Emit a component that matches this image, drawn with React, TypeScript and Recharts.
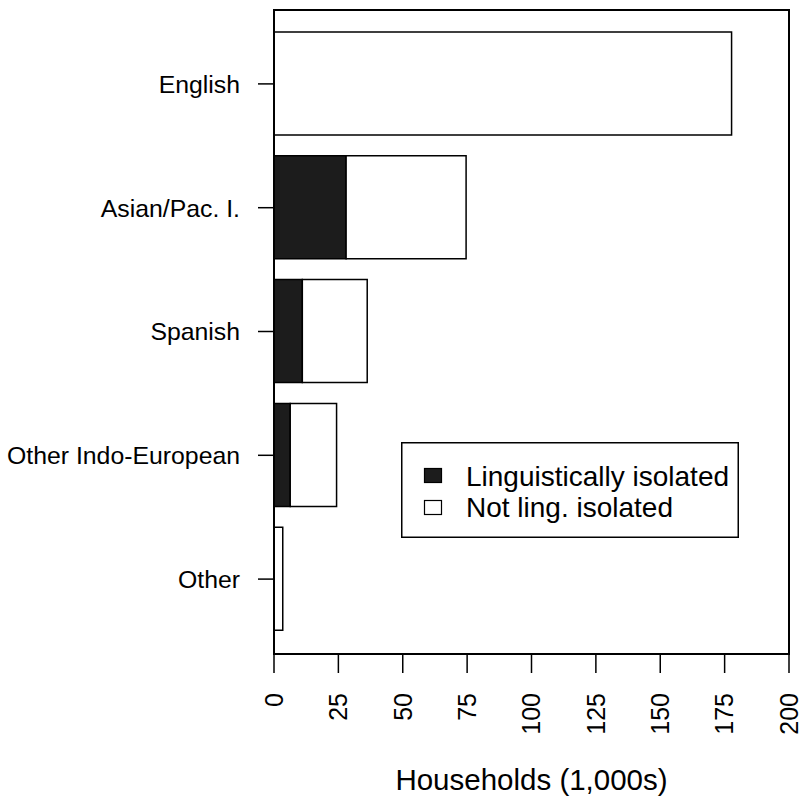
import { Bar, BarChart, Legend, XAxis, YAxis } from "recharts";

// Households by language spoken at home, split by linguistic isolation (1,000s)
const categories = ["English", "Asian/Pac. I.", "Spanish", "Other Indo-European", "Other"];
const isolated = [0, 28, 11, 6.3, 0];
const notIsolated = [177.7, 46.6, 25.2, 18, 3.4];
const xTicks = [0, 25, 50, 75, 100, 125, 150, 175, 200];
const seriesNames = ["Linguistically isolated", "Not ling. isolated"];

const data = categories.map((name, i) => ({
  name,
  isolated: isolated[i],
  notIsolated: notIsolated[i],
}));

const FONT = "'Liberation Sans', Arial, Helvetica, sans-serif";
const DARK = "#1c1c1c";

function XTick({ x, y, payload }: any) {
  return (
    <text
      x={x}
      y={y}
      transform={`rotate(-90, ${x}, ${y})`}
      textAnchor="end"
      dy="0.35em"
      fontSize={25}
      fontFamily={FONT}
      fill="#000"
    >
      {payload.value}
    </text>
  );
}

function LegendBox() {
  return (
    <svg width={338} height={96} style={{ display: "block" }}>
      <rect x={0.75} y={0.75} width={336.5} height={94.5} fill="#fff" stroke="#000" strokeWidth={1.5} />
      <rect x={23.5} y={26.5} width={17} height={14} fill={DARK} stroke="#000" strokeWidth={1.2} />
      <rect x={23.5} y={58.5} width={17} height={14} fill="#fff" stroke="#000" strokeWidth={1.2} />
      <text x={65} y={44} fontSize={28} fontFamily={FONT} fill="#000">
        {seriesNames[0]}
      </text>
      <text x={65} y={75} fontSize={28} fontFamily={FONT} fill="#000">
        {seriesNames[1]}
      </text>
    </svg>
  );
}

export default function App() {
  return (
    <div style={{ position: "relative", width: 801, height: 799, fontFamily: FONT }}>
      <style>{"body{margin:0}"}</style>
      <BarChart
        width={801}
        height={799}
        data={data}
        layout="vertical"
        margin={{ top: 10, right: 12, left: 0, bottom: 0 }}
      >
        <XAxis
          type="number"
          domain={[0, 200]}
          ticks={xTicks}
          interval={0}
          axisLine={false}
          tickLine={{ stroke: "#000", strokeWidth: 1.5 }}
          tickSize={19}
          tickMargin={20}
          height={145}
          tick={<XTick />}
          label={({ viewBox }: any) => (
            <text
              x={viewBox.x + viewBox.width / 2}
              y={viewBox.y + 136}
              textAnchor="middle"
              fontSize={29.5}
              fontFamily={FONT}
              fill="#000"
            >
              Households (1,000s)
            </text>
          )}
        />
        <YAxis
          type="category"
          dataKey="name"
          width={274}
          padding={{ top: 12, bottom: 13 }}
          axisLine={false}
          tickLine={{ stroke: "#000", strokeWidth: 1.5 }}
          tickSize={16}
          tickMargin={18}
          interval={0}
          tick={{ fontSize: 24.8, fill: "#000", fontFamily: FONT }}
        />
        <Legend
          verticalAlign="middle"
          align="center"
          content={() => <LegendBox />}
          wrapperStyle={{ left: 401, top: 442, width: 338, height: 96 }}
        />
        <Bar
          dataKey="isolated"
          name={seriesNames[0]}
          stackId="a"
          barSize={103}
          fill={DARK}
          stroke="#000"
          strokeWidth={1.5}
          isAnimationActive={false}
        />
        <Bar
          dataKey="notIsolated"
          name={seriesNames[1]}
          stackId="a"
          barSize={103}
          fill="#fff"
          stroke="#000"
          strokeWidth={1.5}
          isAnimationActive={false}
        />
      </BarChart>
      <div
        style={{
          position: "absolute",
          left: 273,
          top: 9,
          width: 517,
          height: 646,
          border: "2px solid #000",
          boxSizing: "border-box",
          pointerEvents: "none",
        }}
      />
    </div>
  );
}
